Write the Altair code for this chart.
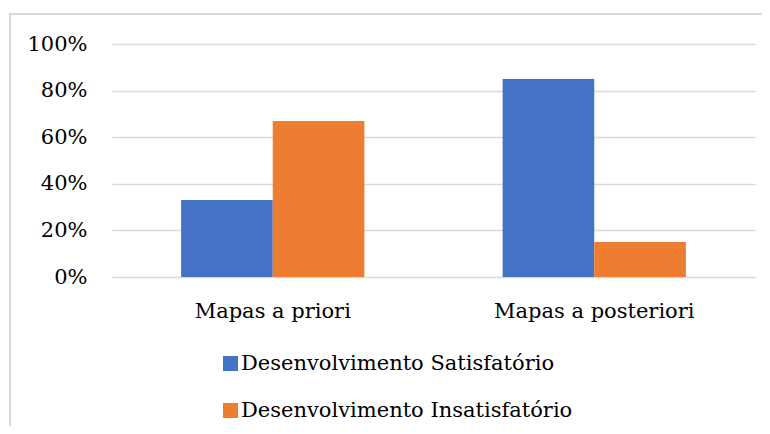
import altair as alt
import pandas as pd

categories = ["Mapas a priori", "Mapas a posteriori"]
series = ["Desenvolvimento Satisfatório", "Desenvolvimento Insatisfatório"]
satisfatorio = [0.33, 0.85]
insatisfatorio = [0.67, 0.15]
colors = ["#4472C4", "#ED7D31"]
y_ticks = [0, 0.2, 0.4, 0.6, 0.8, 1.0]

rows = []
for i, c in enumerate(categories):
    rows.append({"cat": c, "serie": series[0], "val": satisfatorio[i]})
    rows.append({"cat": c, "serie": series[1], "val": insatisfatorio[i]})
df = pd.DataFrame(rows)

FONT = "DejaVu Serif"
FS = 21

border = alt.Chart(pd.DataFrame({"b": [0]})).mark_rect(
    fill="transparent", stroke="#d9d9d9", strokeWidth=2
).encode(
    x=alt.value(-102), x2=alt.value(720), y=alt.value(-30), y2=alt.value(440)
)

bars = alt.Chart(df).mark_bar().encode(
    x=alt.X(
        "cat:N", sort=categories, title=None,
        scale=alt.Scale(paddingInner=0.43, paddingOuter=0.215),
        axis=alt.Axis(labelAngle=0, ticks=False, domain=False, labelPadding=23,
                      labelFontSize=FS, labelFont=FONT, labelColor="black",
                      labelLimit=400, grid=False),
    ),
    xOffset=alt.XOffset("serie:N", sort=series,
                        scale=alt.Scale(paddingInner=0, paddingOuter=0)),
    y=alt.Y(
        "val:Q", title=None, scale=alt.Scale(domain=[0, 1], nice=False),
        axis=alt.Axis(values=y_ticks, format=".0%", ticks=False, domain=False,
                      labelPadding=25, labelFontSize=FS, labelFont=FONT,
                      labelColor="black", grid=True, gridColor="#d9d9d9",
                      gridWidth=1.5),
    ),
    color=alt.Color(
        "serie:N", sort=series,
        scale=alt.Scale(domain=series, range=colors),
        legend=alt.Legend(title=None, orient="none", legendX=108, legendY=309,
                          direction="vertical", symbolType="square",
                          symbolSize=225, symbolStrokeWidth=0,
                          labelFontSize=FS, labelFont=FONT, labelColor="black",
                          rowPadding=25, labelOffset=0, labelLimit=600,
                          padding=0),
    ),
)

chart = alt.layer(border, bars).properties(
    width=643, height=233,
    autosize=alt.AutoSizeParams(type="none"),
    padding={"left": 104, "top": 36, "right": 7, "bottom": 149},
).configure_view(stroke="transparent")

chart.save("out.html", embed_options={"renderer": "svg", "actions": False})
